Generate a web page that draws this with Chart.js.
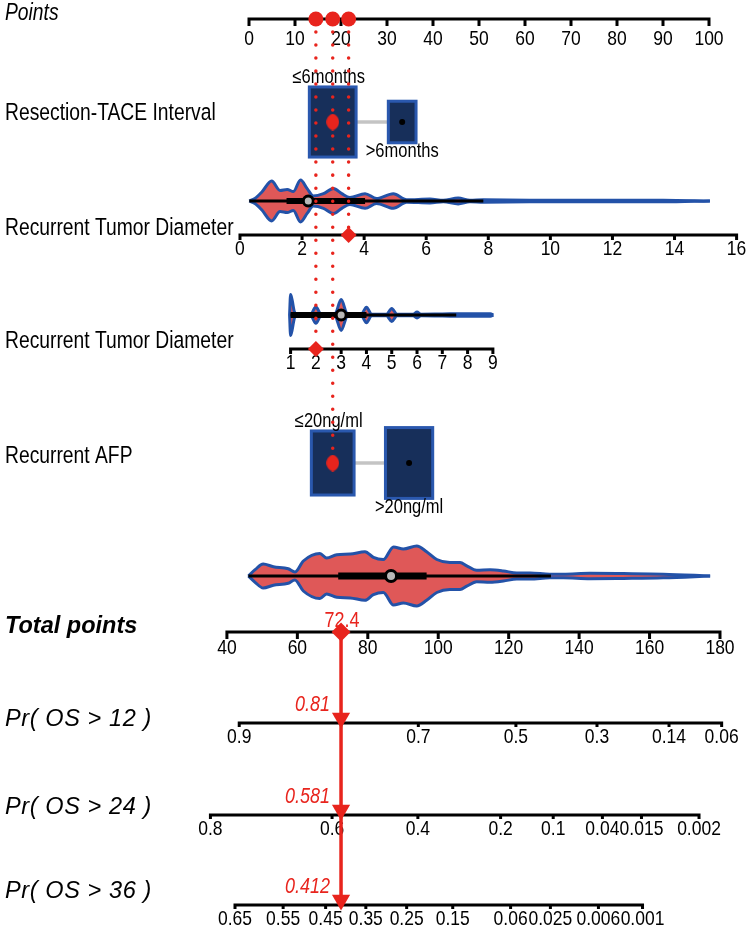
<!DOCTYPE html>
<html>
<head>
<meta charset="utf-8">
<script src="https://cdn.jsdelivr.net/npm/chart.js@4.4.1/dist/chart.umd.min.js"></script>
<style>
  html, body { margin: 0; padding: 0; background: #fff; }
  #nomo { display: block; }
</style>
</head>
<body>
<canvas id="nomo" width="750" height="930"></canvas>
<script>
// ============================================================
// Nomogram — OS after TACE for recurrent HCC
// ============================================================

// ---------- data ----------
const pointsTicks = [0, 10, 20, 30, 40, 50, 60, 70, 80, 90, 100];

const intervalLevels = ['≤6months', '>6months'];
const intervalPoints = [18.2, 33.3];
const intervalShare = [0.74, 0.26];
const intervalPick = 0;

const afpLevels = ['≤20ng/ml', '>20ng/ml'];
const afpPoints = [18.2, 34.8];
const afpShare = [0.45, 0.55];
const afpPick = 0;

// Recurrent Tumor Diameter, first scale (0-16)
const diam1Ticks = [0, 2, 4, 6, 8, 10, 12, 14, 16];
const diam1Anchor = [[0, -1.96], [16, 106.0]]; // value -> points
const diam1Value = 3.5;
const diam1ViolinX = [0.30, 0.48, 0.70, 1.02, 1.29, 1.52, 1.72, 1.95, 2.17, 2.36, 2.69, 3.01, 3.28, 3.54, 4.03, 4.40, 4.94, 5.37, 6.12, 6.55, 7.03, 7.41, 7.84, 9.34, 11.49, 13.64, 15.14];
const diam1ViolinD = [0, 0.12, 0.42, 0.95, 0.50, 0.55, 0.45, 1.00, 0.58, 0.24, 0.35, 0.60, 0.35, 0.17, 0.35, 0.12, 0.35, 0.06, 0.09, 0.04, 0.14, 0.04, 0.06, 0.04, 0.04, 0.04, 0];
const diam1Whisker = [0.30, 7.84];
const diam1Iqr = [1.5, 4.03];
const diam1Median = 2.2;

// Recurrent Tumor Diameter, second scale (1-9)
const diam2Ticks = [1, 2, 3, 4, 5, 6, 7, 8, 9];
const diam2Anchor = [[1, 9.04], [9, 53.02]];
const diam2Value = 2;
const diam2ViolinX = [0.96, 1.0, 1.06, 1.15, 1.25, 1.5, 1.8, 2.0, 2.2, 2.5, 2.75, 3.0, 3.25, 3.5, 3.8, 4.0, 4.2, 4.5, 4.8, 5.0, 5.2, 5.5, 5.85, 6.0, 6.15, 7.0, 8.0, 8.9, 9.02];
const diam2ViolinD = [0, 0.95, 0.7, 0.15, 0.04, 0.04, 0.04, 0.38, 0.04, 0.04, 0.04, 0.72, 0.04, 0.04, 0.04, 0.36, 0.04, 0.04, 0.04, 0.30, 0.04, 0.04, 0.04, 0.14, 0.04, 0.05, 0.06, 0.06, 0];
const diam2Whisker = [1.0, 7.55];
const diam2Iqr = [1.0, 4.0];
const diam2Median = 3.0;

// Total points
const totalTicks = [40, 60, 80, 100, 120, 140, 160, 180];
const totalAnchor = [[40, -4.80], [180, 102.39]];
const totalScore = 72.4;
const totalViolinX = [46.1, 48.0, 50.3, 53.2, 57.4, 59.3, 61.7, 66.4, 68.3, 71.2, 75.0, 79.2, 81.6, 84.4, 87.3, 90.1, 93.9, 96.7, 99.6, 103.3, 106.2, 108.1, 110.9, 114.7, 118.5, 122.3, 126.1, 131.7, 135.5, 143.1, 152.6, 163.9, 177.2];
const totalViolinD = [0, 0.21, 0.40, 0.31, 0.24, 0.13, 0.50, 0.75, 0.60, 0.71, 0.73, 0.81, 0.62, 0.55, 0.97, 0.90, 1.00, 0.81, 0.55, 0.45, 0.45, 0.34, 0.19, 0.21, 0.17, 0.10, 0.10, 0.06, 0.06, 0.09, 0.08, 0.06, 0];
const totalWhisker = [46.1, 132.0];
const totalIqr = [71.6, 96.7];
const totalMedian = 86.6;

// Survival probabilities
const osTitles = ['Pr( OS > 12 )', 'Pr( OS > 24 )', 'Pr( OS > 36 )'];
const osTicks = [
  [0.9, 0.7, 0.5, 0.3, 0.14, 0.06],
  [0.8, 0.6, 0.4, 0.2, 0.1, 0.04, 0.015, 0.002],
  [0.65, 0.55, 0.45, 0.35, 0.25, 0.15, 0.06, 0.025, 0.006, 0.001],
];
const osPred = [0.81, 0.581, 0.412];
const osSlope = 41.7; // total points per unit of log(-log(p))

// ---------- layout / style ----------
const W = 750, H = 930;
const PTS0_PX = 249, PTS100_PX = 709;
const ROW = {
  points: 19, interval: 122, diam1Violin: 201, diam1Axis: 235,
  diam2Violin: 315, diam2Axis: 349, afp: 463, totalViolin: 576, totalAxis: 632,
  os: [723, 815, 905],
};
const TITLE_Y = { points: 14, interval: 114, diam1: 229, diam2: 342, afp: 457, total: 627, os: [719, 807, 891] };

const FONT = "'Liberation Sans', Arial, sans-serif";
const STRETCH = 1.2;
const TICK_SIZE = 17.5;
const RED = '#E8241D';
const BOX_FILL = '#172F5A';
const BOX_LINE = '#2A58AE';
const VIOLIN_FILL = '#DF5858';
const VIOLIN_LINE = '#2352A8';

// ---------- scales ----------
const ptsPerPx = 100 / (PTS100_PX - PTS0_PX);
const PTS_MIN = -PTS0_PX * ptsPerPx;
const PTS_MAX = 100 + (W - PTS100_PX) * ptsPerPx;

function rangeFor(anchor) {
  const [[v0, p0], [v1, p1]] = anchor;
  const b = (p1 - p0) / (v1 - v0);
  return { min: v0 + (PTS_MIN - p0) / b, max: v0 + (PTS_MAX - p0) / b };
}
function toPoints(anchor, v) {
  const [[v0, p0], [v1, p1]] = anchor;
  return p0 + (v - v0) * (p1 - p0) / (v1 - v0);
}
const cloglog = (p) => Math.log(-Math.log(p));
const osToTotal = (p, k) => totalScore + osSlope * (cloglog(p) - cloglog(osPred[k]));

const hidden = (extra) => ({ type: 'linear', display: false, ...extra });

// lens-shaped marker used for the chosen category
function lensMarker(w, h, color) {
  const c = document.createElement('canvas');
  c.width = w; c.height = h;
  const g = c.getContext('2d');
  g.fillStyle = color;
  g.beginPath();
  g.moveTo(w / 2, 0);
  g.bezierCurveTo(w * 1.15, h * 0.2, w * 1.15, h * 0.8, w / 2, h);
  g.bezierCurveTo(-w * 0.15, h * 0.8, -w * 0.15, h * 0.2, w / 2, 0);
  g.fill();
  return c;
}

// ---------- text helper ----------
function drawText(ctx, str, x, y, o = {}) {
  ctx.save();
  ctx.translate(x, y);
  ctx.scale(1, o.stretch || STRETCH);
  ctx.font = `${o.style || ''} ${o.size || TICK_SIZE}px ${FONT}`;
  ctx.textAlign = o.align || 'center';
  ctx.textBaseline = 'middle';
  ctx.fillStyle = o.color || '#000';
  if (o.spacing) ctx.letterSpacing = o.spacing;
  ctx.fillText(str, 0, 0);
  ctx.restore();
}

function drawAxis(ctx, chart, axisId, rowY, values, labels, tickLen, labelGap, lw) {
  const sx = chart.scales[axisId];
  const y = chart.scales.y.getPixelForValue(rowY);
  const xs = values.map((v) => sx.getPixelForValue(v));
  ctx.save();
  ctx.strokeStyle = '#000';
  ctx.lineWidth = lw;
  ctx.beginPath();
  ctx.moveTo(Math.min(...xs) - lw / 2, y);
  ctx.lineTo(Math.max(...xs) + lw / 2, y);
  xs.forEach((x) => { ctx.moveTo(x, y); ctx.lineTo(x, y + tickLen); });
  ctx.stroke();
  ctx.restore();
  labels.forEach((t, i) => drawText(ctx, t, xs[i], y + labelGap));
}

function drawCategory(ctx, chart, rowY, pts, share, levels, k) {
  const sx = chart.scales.xPts;
  const y = chart.scales.y.getPixelForValue(rowY);
  const xs = pts.map((p) => sx.getPixelForValue(p));
  ctx.save();
  ctx.strokeStyle = '#C4C4C4';
  ctx.lineWidth = 3.5;
  ctx.beginPath();
  ctx.moveTo(xs[0], y);
  ctx.lineTo(xs[xs.length - 1], y);
  ctx.stroke();
  xs.forEach((x, i) => {
    const h = Math.sqrt(share[i]) * k;
    const w = h * 0.667;
    ctx.fillStyle = BOX_FILL;
    ctx.strokeStyle = BOX_LINE;
    ctx.lineWidth = 3;
    ctx.fillRect(x - w / 2, y - h / 2, w, h);
    ctx.strokeRect(x - w / 2, y - h / 2, w, h);
    const ly = i === 0 ? y - h / 2 - 9 : y + h / 2 + 9;
    drawText(ctx, levels[i], x - (i === 0 ? 4 : 0), ly, { size: 16.5 });
  });
  ctx.restore();
}

const nomogramPlugin = {
  id: 'nomogram',
  beforeDatasetsDraw(chart) {
    const ctx = chart.ctx;
    drawAxis(ctx, chart, 'xPts', ROW.points, pointsTicks, pointsTicks.map(String), 7, 20, 3);
    drawAxis(ctx, chart, 'xDiam1', ROW.diam1Axis, diam1Ticks, diam1Ticks.map(String), 5, 14, 3);
    drawAxis(ctx, chart, 'xDiam2', ROW.diam2Axis, diam2Ticks, diam2Ticks.map(String), 5, 14, 3);
    drawAxis(ctx, chart, 'xTotal', ROW.totalAxis, totalTicks, totalTicks.map(String), 7, 16, 3);
    osTicks.forEach((ticks, k) => {
      drawAxis(ctx, chart, 'xTotal', ROW.os[k], ticks.map((p) => osToTotal(p, k)), ticks.map(String), 4, 14, 3);
    });
    drawCategory(ctx, chart, ROW.interval, intervalPoints, intervalShare, intervalLevels, 81.5);
    drawCategory(ctx, chart, ROW.afp, afpPoints, afpShare, afpLevels, 95.5);
  },
  afterDatasetsDraw(chart) {
    const ctx = chart.ctx;
    const ys = chart.scales.y;
    const left = 5;
    const lab = { size: 19.3, align: 'left' };
    drawText(ctx, 'Points', left, ys.getPixelForValue(TITLE_Y.points), { ...lab, style: 'italic' });
    drawText(ctx, 'Resection-TACE Interval', left, ys.getPixelForValue(TITLE_Y.interval), lab);
    drawText(ctx, 'Recurrent Tumor Diameter', left, ys.getPixelForValue(TITLE_Y.diam1), lab);
    drawText(ctx, 'Recurrent Tumor Diameter', left, ys.getPixelForValue(TITLE_Y.diam2), lab);
    drawText(ctx, 'Recurrent AFP', left, ys.getPixelForValue(TITLE_Y.afp), lab);
    drawText(ctx, 'Total points', left, ys.getPixelForValue(TITLE_Y.total), { size: 23.5, style: 'italic bold', align: 'left', stretch: 1.0 });
    osTitles.forEach((t, k) => {
      drawText(ctx, t, left, ys.getPixelForValue(TITLE_Y.os[k]), { size: 23.5, style: 'italic', align: 'left', stretch: 1.0, spacing: '0.6px' });
    });

    const sx = chart.scales.xTotal;
    const x = sx.getPixelForValue(totalScore);
    drawText(ctx, String(totalScore), x + 1, ys.getPixelForValue(ROW.totalAxis) - 11, { size: 18, color: RED });
    osPred.forEach((p, k) => {
      drawText(ctx, String(p), x - 11, ys.getPixelForValue(ROW.os[k]) - 18, { size: 18, style: 'italic', color: RED, align: 'right' });
    });
  },
};

// ---------- datasets ----------
const lineDs = (xAxisID, data, color, width, extra = {}) => ({
  type: 'line', xAxisID, yAxisID: 'y', data, borderColor: color, borderWidth: width,
  pointRadius: 0, fill: false, tension: 0, borderCapStyle: 'butt', ...extra,
});
const pointDs = (xAxisID, data, color, radius, extra = {}) => ({
  type: 'scatter', xAxisID, yAxisID: 'y', data, pointRadius: radius,
  pointBackgroundColor: color, pointBorderWidth: 0, pointHoverRadius: radius, ...extra,
});

function violin(axisId, xs, dens, rowY, halfMax, order) {
  const up = xs.map((x, i) => ({ x, y: rowY - dens[i] * halfMax }));
  const lo = xs.map((x, i) => ({ x, y: rowY + dens[i] * halfMax }));
  const common = { cubicInterpolationMode: 'monotone', borderJoinStyle: 'round' };
  return [
    lineDs(axisId, up, VIOLIN_LINE, 3, { ...common, fill: '+1', backgroundColor: VIOLIN_FILL, order: order + 1 }),
    lineDs(axisId, lo, VIOLIN_LINE, 3, { ...common, order }),
  ];
}
function boxplot(axisId, whisker, iqr, med, rowY, thick, medR) {
  return [
    lineDs(axisId, whisker.map((x) => ({ x, y: rowY })), '#000', 3, { order: 8 }),
    lineDs(axisId, iqr.map((x) => ({ x, y: rowY })), '#000', thick, { order: 8 }),
    pointDs(axisId, [{ x: med, y: rowY }], '#B8B8B8', medR, { pointBorderColor: '#000', pointBorderWidth: 3, order: 7 }),
  ];
}

const pDiam1 = toPoints(diam1Anchor, diam1Value);
const pDiam2 = toPoints(diam2Anchor, diam2Value);
const pInterval = intervalPoints[intervalPick];
const pAfp = afpPoints[afpPick];
const lens = lensMarker(13, 17, RED);

const dotted = (p, yEnd) => lineDs('xPts', [{ x: p, y: ROW.points }, { x: p, y: yEnd }], RED, 3.5,
  { borderDash: [0.01, 13], borderCapStyle: 'round', order: 3 });

const datasets = [
  ...violin('xDiam1', diam1ViolinX, diam1ViolinD, ROW.diam1Violin, 21, 10),
  ...violin('xDiam2', diam2ViolinX, diam2ViolinD, ROW.diam2Violin, 21.5, 10),
  ...violin('xTotal', totalViolinX, totalViolinD, ROW.totalViolin, 30, 10),
  ...boxplot('xDiam1', diam1Whisker, diam1Iqr, diam1Median, ROW.diam1Violin, 6, 5),
  ...boxplot('xDiam2', diam2Whisker, diam2Iqr, diam2Median, ROW.diam2Violin, 6, 5),
  ...boxplot('xTotal', totalWhisker, totalIqr, totalMedian, ROW.totalViolin, 7, 5.5),
  // unselected category centres
  pointDs('xPts', [
    { x: intervalPoints[1 - intervalPick], y: ROW.interval },
    { x: afpPoints[1 - afpPick], y: ROW.afp },
  ], '#000', 3, { order: 6 }),
  // red dotted guides from the Points axis
  dotted(pDiam2, ROW.diam2Axis),
  dotted(pInterval, ROW.afp),
  dotted(pDiam1, ROW.diam1Axis),
  // points for each variable on the Points axis
  pointDs('xPts', [pDiam2, pInterval, pDiam1].map((x) => ({ x, y: ROW.points })), RED, 7.5, { order: 1 }),
  // selected values
  pointDs('xPts', [{ x: pInterval, y: ROW.interval }, { x: pAfp, y: ROW.afp }], RED, 8, { pointStyle: lens, order: 1 }),
  pointDs('xDiam1', [{ x: diam1Value, y: ROW.diam1Axis }], RED, 8, { pointStyle: 'rectRot', order: 1 }),
  pointDs('xDiam2', [{ x: diam2Value, y: ROW.diam2Axis }], RED, 8, { pointStyle: 'rectRot', order: 1 }),
  // total points and survival read-out
  lineDs('xTotal', [{ x: totalScore, y: ROW.totalAxis }, { x: totalScore, y: ROW.os[2] }], RED, 3.5, { order: 2 }),
  pointDs('xTotal', [{ x: totalScore, y: ROW.totalAxis }], RED, 9.5, { pointStyle: 'rectRot', order: 1 }),
  pointDs('xTotal', ROW.os.map((y) => ({ x: totalScore, y: y - 5 })), RED, 10.5,
    { pointStyle: 'triangle', rotation: 180, order: 1 }),
];

new Chart(document.getElementById('nomo'), {
  type: 'scatter',
  data: { datasets },
  options: {
    responsive: false,
    devicePixelRatio: 1,
    animation: false,
    layout: { padding: 0, autoPadding: false },
    plugins: { legend: { display: false }, tooltip: { enabled: false } },
    scales: {
      y: hidden({ min: 0, max: H, reverse: true }),
      xPts: hidden({ axis: 'x', position: 'bottom', min: PTS_MIN, max: PTS_MAX }),
      xDiam1: hidden({ axis: 'x', position: 'bottom', ...rangeFor(diam1Anchor) }),
      xDiam2: hidden({ axis: 'x', position: 'bottom', ...rangeFor(diam2Anchor) }),
      xTotal: hidden({ axis: 'x', position: 'bottom', ...rangeFor(totalAnchor) }),
    },
  },
  plugins: [nomogramPlugin],
});
</script>
</body>
</html>
